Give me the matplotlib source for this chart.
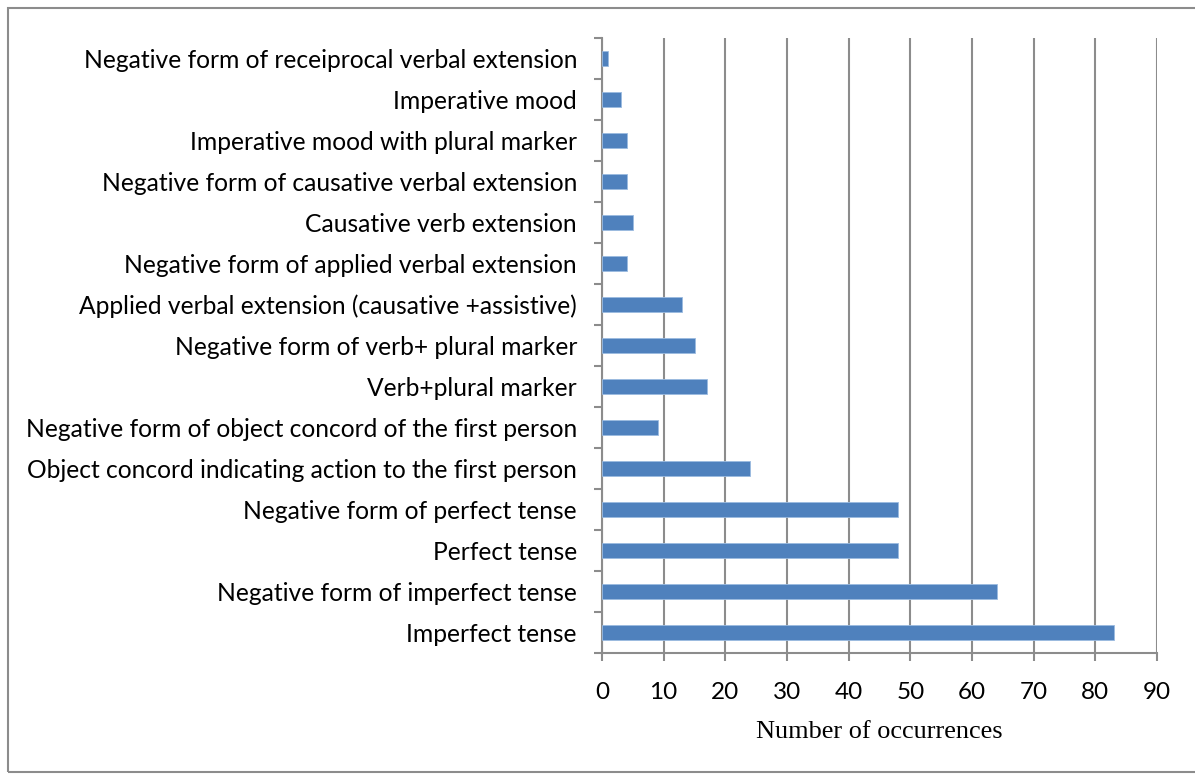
import matplotlib
matplotlib.use("Agg")
import matplotlib.pyplot as plt
from matplotlib.patches import Rectangle
import numpy as np

categories = [
    "Imperfect tense",
    "Negative form of imperfect tense",
    "Perfect tense",
    "Negative form of perfect tense",
    "Object concord indicating action to the first person",
    "Negative form of object concord of the first person",
    "Verb+plural marker",
    "Negative form of verb+ plural marker",
    "Applied verbal extension (causative +assistive)",
    "Negative form of applied verbal extension",
    "Causative verb extension",
    "Negative form of causative verbal extension",
    "Imperative mood with plural marker",
    "Imperative mood",
    "Negative form of receiprocal verbal extension",
]
occurrences = [83, 64, 48, 48, 24, 9, 17, 15, 13, 4, 5, 4, 4, 3, 1]
x_ticks = [0, 10, 20, 30, 40, 50, 60, 70, 80, 90]
x_label = "Number of occurrences"

W, H = 1195, 774
fig = plt.figure(figsize=(W / 100, H / 100), dpi=100)

# outer frame
fig.patches.append(Rectangle((8 / W, 2 / H), 1.2, (H - 10) / H, transform=fig.transFigure,
                             fill=False, edgecolor="#8c8c8c", linewidth=1.5))

left, right, top, bottom = 602, 1157, 38, 653
ax = fig.add_axes([left / W, 1 - bottom / H, (right - left) / W, (bottom - top) / H])

axis_col = "#8c8c8c"
bar_col = "#4f81bd"
y = np.arange(len(categories))
ax.barh(y, occurrences, height=0.39, color=bar_col, edgecolor="#9bbbe0", linewidth=0.6, zorder=3)

ax.set_xlim(0, 90)
ax.set_ylim(-0.5, len(categories) - 0.5)
ax.set_xticks(x_ticks)
ax.set_xticklabels([str(t) for t in x_ticks], fontsize=17.5, family="Lato")
ax.xaxis.grid(True, color=axis_col, linewidth=1.5, zorder=0)

# category boundary ticks, labels at bar centres
ax.set_yticks(np.arange(-0.5, len(categories), 1.0))
ax.set_yticklabels([])
ax.set_yticks(y, minor=True)
ax.set_yticklabels(categories, minor=True, fontsize=17.7, family="Lato")
ax.tick_params(axis="y", which="minor", length=0, pad=18)
ax.tick_params(axis="y", which="major", length=6, width=1.5, color=axis_col, direction="out")
ax.tick_params(axis="x", length=6, width=1.5, color=axis_col, direction="out", pad=15)

for s in ["top", "right"]:
    ax.spines[s].set_visible(False)
for s in ["left", "bottom"]:
    ax.spines[s].set_color(axis_col)
    ax.spines[s].set_linewidth(1.5)

ax.set_xlabel(x_label, family="Liberation Serif", fontsize=18.9, labelpad=13)

fig.savefig("out.png", dpi=100)
